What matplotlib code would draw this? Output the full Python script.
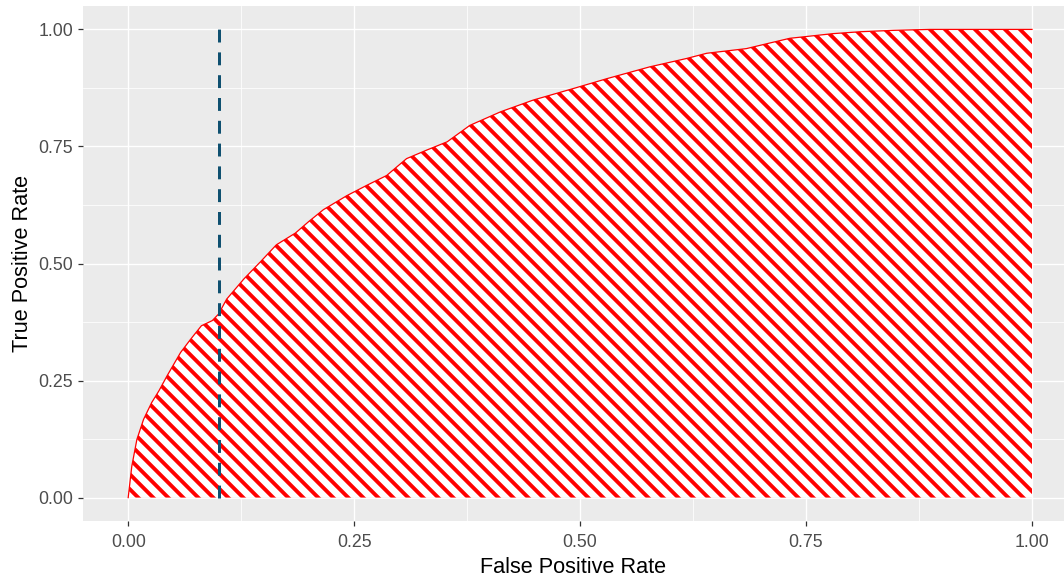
import matplotlib
matplotlib.use("Agg")
import matplotlib.pyplot as plt
from matplotlib.collections import LineCollection
import numpy as np

# ROC curve
fpr = [0.0, 0.004, 0.0096, 0.017, 0.026, 0.034, 0.043, 0.058, 0.069, 0.081,
       0.093, 0.100, 0.109, 0.128, 0.146, 0.164, 0.185, 0.200, 0.216, 0.242,
       0.264, 0.286, 0.308, 0.330, 0.353, 0.378, 0.412, 0.448, 0.493, 0.530,
       0.577, 0.618, 0.640, 0.684, 0.710, 0.732, 0.780, 0.810, 0.847, 0.887,
       1.0]
tpr = [0.0, 0.067, 0.124, 0.167, 0.203, 0.228, 0.260, 0.310, 0.338, 0.367,
       0.378, 0.392, 0.424, 0.467, 0.503, 0.540, 0.565, 0.590, 0.615, 0.645,
       0.667, 0.688, 0.724, 0.742, 0.760, 0.795, 0.824, 0.849, 0.874, 0.895,
       0.920, 0.938, 0.949, 0.959, 0.971, 0.981, 0.991, 0.995, 0.998, 1.0,
       1.0]
cutoff_fpr = 0.1
ticks = [0.0, 0.25, 0.5, 0.75, 1.0]
tick_labels = ["0.00", "0.25", "0.50", "0.75", "1.00"]
minor = [0.125, 0.375, 0.625, 0.875]

plt.rcParams['font.family'] = ['Liberation Sans', 'DejaVu Sans']

DPI = 90
W, H = 1064, 580
fig = plt.figure(figsize=(W / DPI, H / DPI), dpi=DPI)
ax = fig.add_axes([83 / W, 59 / H, (W - 83) / W, (521 - 6) / H])
ax.set_facecolor('#EBEBEB')
for s in ax.spines.values():
    s.set_visible(False)

ax.set_xlim(-0.05, (W - 128) / 904)
ax.set_ylim(-0.05, 1.05)

ax.set_xticks(ticks)
ax.set_xticklabels(tick_labels)
ax.set_yticks(ticks)
ax.set_yticklabels(tick_labels)
ax.set_xticks(minor, minor=True)
ax.set_yticks(minor, minor=True)
ax.tick_params(which='major', length=4.0, width=1.0, color='#333333',
               labelsize=14.2, labelcolor='#4D4D4D', pad=4)
ax.tick_params(axis='x', which='major', pad=6.5)
ax.tick_params(which='minor', length=0)
ax.grid(which='major', color='white', lw=1.1)
ax.grid(which='minor', color='white', lw=0.6)
ax.set_axisbelow(True)

area = ax.fill_between(fpr, 0, tpr, facecolor='white', linewidth=0, zorder=2)

# diagonal stripes, 45 degrees on screen, clipped to the area
p0 = ax.transData.transform((0, 0))
p1 = ax.transData.transform((1, 1))
sx, sy = p1[0] - p0[0], p1[1] - p0[1]
step = 15.0
segs = []
for c in np.arange(-sy - 20, sx + 20, step):
    xa, ya = c, sy
    xb, yb = c + sy, 0.0
    segs.append([((xa - 10) / sx, (ya + 10) / sy), ((xb + 10) / sx, (yb - 10) / sy)])
stripes = LineCollection(segs, colors='red', linewidths=3.1, zorder=2.5,
                         capstyle='butt')
ax.add_collection(stripes)
stripes.set_clip_path(area.get_paths()[0], ax.transData)

ax.plot(fpr, tpr, color='red', lw=1.0, zorder=3)
ax.plot([cutoff_fpr, cutoff_fpr], [0, 1], color='#0F5070', lw=2.4,
        dashes=(4.3, 3.3), zorder=4)

ax.set_xlabel("False Positive Rate", fontsize=17.3, labelpad=5)
ax.set_ylabel("True Positive Rate", fontsize=17.3, labelpad=4)

fig.savefig("out.png", dpi=DPI)
